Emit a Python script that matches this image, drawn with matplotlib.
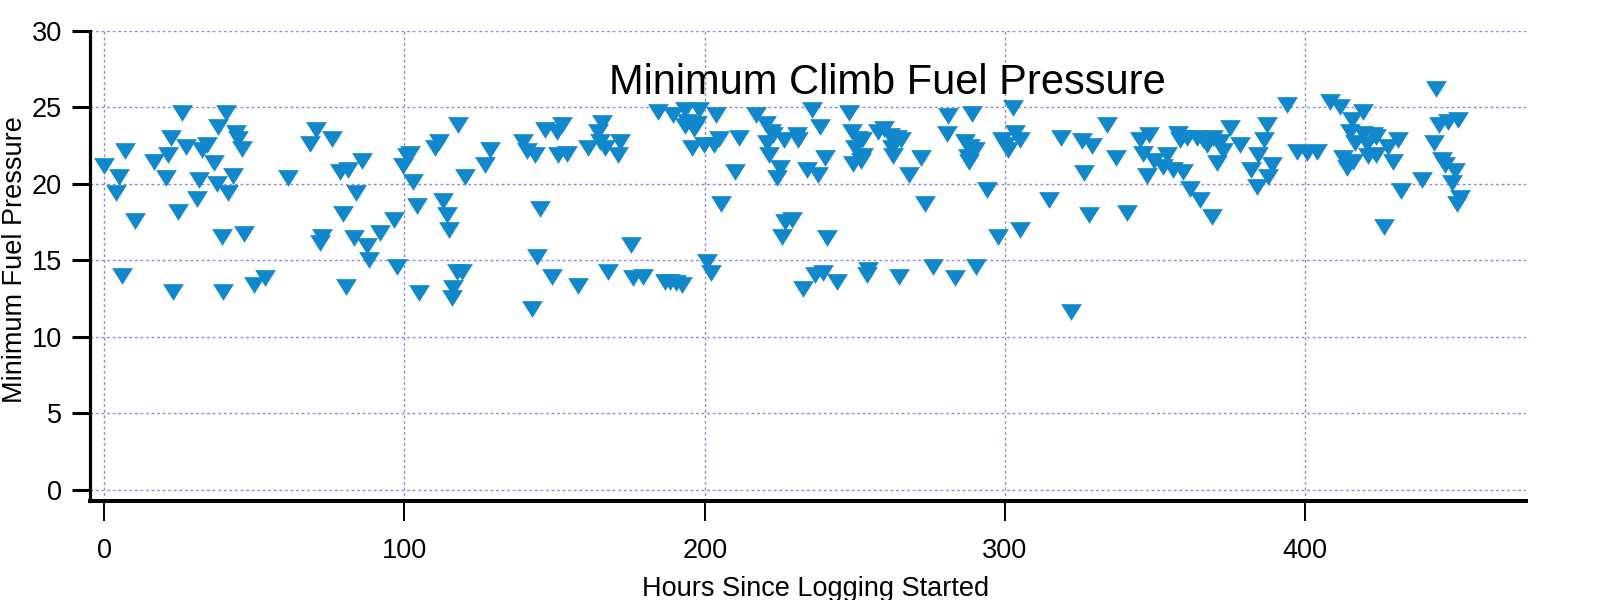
import matplotlib
matplotlib.use("Agg")
import matplotlib.pyplot as plt

plt.rcParams['font.family'] = ['Liberation Sans', 'DejaVu Sans']

# hours since logging started
hours = [
    0.0, 3.96, 5.07, 5.85, 6.96, 10.3, 16.6, 20.6, 21.4, 22.2,
    23.05, 24.7, 25.9, 27.3, 31.0, 31.7, 32.5, 34.2, 36.6, 37.5,
    38.0, 39.2, 39.5, 40.5, 41.4, 42.8, 43.8, 44.7, 46.0, 46.7,
    50.0, 53.7, 61.3, 68.6, 70.6, 71.9, 72.5, 75.8, 78.6, 79.7,
    80.4, 81.3, 83.2, 83.9, 85.8, 87.6, 88.1, 92.0, 96.5, 97.4,
    99.6, 100.8, 102.0, 103.0, 104.1, 105.0, 110.2, 111.6, 112.7, 114.1,
    114.9, 115.8, 116.3, 117.6, 117.9, 119.1, 120.2, 126.8, 128.5, 139.6,
    140.7, 142.4, 143.5, 144.1, 145.2, 146.8, 149.1, 150.9, 151.3, 152.4,
    154.0, 157.9, 161.2, 164.6, 165.1, 165.9, 166.8, 167.9, 171.2, 171.8,
    175.5, 176.2, 179.6, 184.6, 186.8, 188.5, 189.3, 190.5, 192.5, 193.4,
    193.6, 194.0, 195.9, 196.4, 197.5, 198.1, 199.8, 200.7, 202.0, 203.1,
    203.8, 204.8, 205.3, 210.1, 211.4, 217.2, 220.5, 220.6, 221.5, 222.1,
    222.8, 224.2, 225.1, 225.6, 226.4, 226.7, 229.0, 230.6, 231.2, 232.8,
    234.0, 235.8, 236.7, 237.8, 238.4, 239.5, 240.1, 240.6, 244.0, 248.0,
    249.2, 249.5, 250.0, 251.1, 252.2, 252.3, 252.7, 254.0, 254.5, 257.8,
    259.8, 261.7, 262.3, 262.8, 263.9, 264.8, 265.4, 268.1, 272.0, 273.4,
    276.1, 280.6, 281.1, 283.3, 286.7, 287.8, 288.1, 288.3, 288.9, 290.0,
    290.3, 294.1, 297.8, 298.9, 300.0, 301.1, 302.6, 303.3, 305.0, 305.0,
    314.8, 318.5, 321.9, 325.5, 326.4, 328.1, 328.9, 334.1, 336.9, 340.5,
    344.9, 346.0, 347.2, 348.0, 349.6, 352.7, 353.9, 356.0, 357.7, 358.2,
    359.4, 360.5, 361.6, 363.8, 364.9, 366.0, 367.2, 368.8, 369.4, 370.5,
    371.6, 372.7, 374.9, 378.3, 382.0, 383.8, 384.3, 386.2, 387.1, 387.7,
    388.8, 393.8, 397.1, 400.5, 403.8, 408.2, 411.6, 412.7, 413.8, 414.9,
    415.4, 416.0, 416.5, 419.1, 419.3, 420.4, 421.0, 422.6, 423.7, 423.7,
    426.2, 427.7, 429.3, 431.0, 431.8, 438.8, 442.9, 443.5, 444.6, 445.4,
    446.5, 447.6, 448.8, 449.8, 450.4, 450.9, 451.5,
]

# minimum climb fuel pressure
pressure = [
    21.15, 19.4, 20.45, 13.97, 22.13, 17.58, 21.43, 20.35, 21.87, 22.96,
    12.94, 18.17, 24.59, 22.41, 18.97, 20.24, 22.19, 22.52, 21.32, 20.0,
    23.72, 16.53, 12.94, 24.6, 19.4, 20.5, 23.3, 22.9, 22.24, 16.71,
    13.38, 13.81, 20.39, 22.59, 23.5, 16.14, 16.53, 22.89, 20.78, 18.01,
    13.22, 20.88, 16.43, 19.4, 21.48, 15.92, 15.0, 16.75, 17.62, 14.53,
    21.15, 21.8, 21.95, 20.13, 18.54, 12.83, 22.3, 22.74, 18.88, 17.95,
    16.97, 12.51, 13.16, 14.25, 23.83, 14.2, 20.41, 21.22, 22.19, 22.74,
    22.15, 11.79, 21.87, 15.23, 18.32, 23.5, 13.92, 23.4, 21.87, 23.83,
    21.93, 13.31, 22.3, 23.39, 22.7, 23.94, 22.3, 14.25, 21.87, 22.74,
    16.0, 13.81, 13.92, 24.7, 13.6, 13.55, 24.5, 13.5, 13.4, 23.8,
    24.8, 24.04, 22.3, 23.6, 23.9, 24.8, 22.5, 14.9, 14.14, 22.5,
    24.5, 22.9, 18.67, 20.76, 23.0, 24.5, 23.9, 22.63, 21.9, 23.4,
    23.2, 20.4, 21.0, 16.53, 22.85, 17.51, 17.6, 23.17, 22.85, 13.1,
    20.89, 24.8, 14.03, 20.56, 23.72, 14.14, 21.65, 16.43, 13.6, 24.6,
    23.39, 21.3, 22.3, 22.9, 21.5, 22.85, 21.8, 14.03, 14.36, 23.4,
    23.6, 23.1, 22.3, 21.8, 22.96, 13.92, 22.85, 20.56, 21.7, 18.65,
    14.57, 23.25, 24.4, 13.81, 22.74, 21.76, 21.43, 22.41, 24.55, 22.19,
    14.57, 19.6, 16.53, 22.85, 22.5, 22.2, 24.92, 23.29, 22.85, 16.97,
    18.93, 23.0, 11.63, 22.8, 20.7, 17.95, 22.45, 23.83, 21.65, 18.06,
    22.85, 21.95, 20.5, 23.2, 21.5, 21.1, 21.9, 20.9, 23.25, 22.85,
    20.78, 22.96, 19.65, 22.96, 18.96, 22.85, 22.52, 17.82, 22.96, 21.38,
    22.74, 22.15, 23.65, 22.5, 20.9, 19.8, 21.87, 22.85, 23.83, 20.45,
    21.22, 25.13, 22.08, 21.98, 22.08, 25.35, 25.02, 21.65, 21.0, 23.39,
    24.15, 21.43, 22.65, 24.7, 23.25, 22.6, 21.8, 23.15, 23.06, 21.87,
    17.19, 22.41, 21.43, 22.85, 19.5, 20.24, 22.63, 26.2, 23.83, 21.54,
    21.22, 24.04, 20.02, 20.85, 18.65, 24.15, 19.04,
]

fig = plt.figure(figsize=(16, 6), dpi=100)
ax = fig.add_axes([0.05625, 0.165, 0.8975, 0.784])

# wide downward triangle, like the original markers
tri = [(-1, 0.8), (1, 0.8), (0, -0.8)]
ax.plot(hours, pressure, linestyle='none', marker=tri, markersize=15,
        color='#1187cc', markeredgewidth=0, zorder=3)

ax.set_xlim(-4.7, 473.5)
ax.set_ylim(-0.73, 30)
ax.set_xticks([0, 100, 200, 300, 400])
ax.set_yticks([0, 5, 10, 15, 20, 25, 30])

ax.grid(True, color='#8a8ae6', linestyle=(0, (2, 2)), linewidth=1)
ax.set_axisbelow(True)

for side in ['top', 'right']:
    ax.spines[side].set_visible(False)
ax.spines['left'].set_linewidth(2.3)
ax.spines['bottom'].set_linewidth(2.9)

ax.tick_params(axis='y', direction='out', length=13, width=2.2, pad=7, labelsize=19.5)
ax.tick_params(axis='x', direction='out', length=14.5, width=1.4, pad=12, labelsize=19.5)

ax.set_xlabel('Hours Since Logging Started', fontsize=19.5)
ax.set_ylabel('Minimum Fuel Pressure', fontsize=19.5)
ax.xaxis.set_label_coords(0.5056, -0.16)
ax.yaxis.set_label_coords(-0.043, 0.513)

ax.text(260.7, 25.85, 'Minimum Climb Fuel Pressure', fontsize=30,
        ha='center', va='baseline')

fig.savefig('out.png', dpi=100)
